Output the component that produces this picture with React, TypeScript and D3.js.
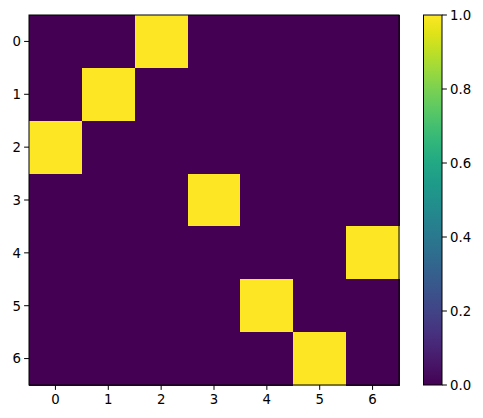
import React from 'react';
import * as d3 from 'd3';

const rows = [0, 1, 2, 3, 4, 5, 6];
const cols = [0, 1, 2, 3, 4, 5, 6];
// column index of the 1 in each row
const onesAt = [2, 1, 0, 3, 6, 4, 5];
const cbTicks = [0.0, 0.2, 0.4, 0.6, 0.8, 1.0];

const W = 483, H = 418;
const left = 29, top = 15, size = 370;
const cbX = 423.5, cbW = 18.5;

export default function App() {
  const x = d3.scaleBand<number>().domain(cols).range([left, left + size]);
  const y = d3.scaleBand<number>().domain(rows).range([top, top + size]);
  const color = d3.scaleSequential(d3.interpolateViridis).domain([0, 1]);
  const cbY = d3.scaleLinear().domain([0, 1]).range([top + size, top]);
  const cells = rows.flatMap(r => cols.map(c => ({ r, c, v: onesAt[r] === c ? 1 : 0 })));
  const stops = d3.range(0, 1.0001, 1 / 20);
  const font = 'DejaVu Sans, sans-serif';

  return (
    <svg width={W} height={H} style={{ position: 'absolute', left: 0, top: 0 }} fontFamily={font}>
      <defs>
        <linearGradient id="cbgrad" x1="0" y1="1" x2="0" y2="0">
          {stops.map(s => <stop key={s} offset={s} stopColor={color(s)} />)}
        </linearGradient>
      </defs>
      <rect width={W} height={H} fill="white" />
      <g shapeRendering="crispEdges">
        {cells.map(d => (
          <rect key={`${d.r}-${d.c}`} x={x(d.c)} y={y(d.r)} width={x.bandwidth() + 0.6}
            height={y.bandwidth() + 0.6} fill={color(d.v)} />
        ))}
      </g>
      <rect x={left} y={top} width={size} height={size} fill="none" stroke="black" strokeWidth={1} />
      {cols.map(c => {
        const cx = x(c)! + x.bandwidth() / 2;
        return (
          <g key={`xt${c}`}>
            <line x1={cx} x2={cx} y1={top + size} y2={top + size + 4.9} stroke="black" />
            <text x={cx} y={top + size + 19} textAnchor="middle" fontSize={13.3}>{c}</text>
          </g>
        );
      })}
      {rows.map(r => {
        const cy = y(r)! + y.bandwidth() / 2;
        return (
          <g key={`yt${r}`}>
            <line x1={left - 4.9} x2={left} y1={cy} y2={cy} stroke="black" />
            <text x={left - 8} y={cy + 4.8} textAnchor="end" fontSize={13.3}>{r}</text>
          </g>
        );
      })}
      <rect x={cbX} y={top} width={cbW} height={size} fill="url(#cbgrad)" />
      <rect x={cbX} y={top} width={cbW} height={size} fill="none" stroke="black" />
      {cbTicks.map(t => (
        <g key={`ct${t}`}>
          <line x1={cbX + cbW} x2={cbX + cbW + 4.9} y1={cbY(t)} y2={cbY(t)} stroke="black" />
          <text x={cbX + cbW + 8} y={cbY(t) + 4.8} fontSize={13.3}>{t.toFixed(1)}</text>
        </g>
      ))}
    </svg>
  );
}
